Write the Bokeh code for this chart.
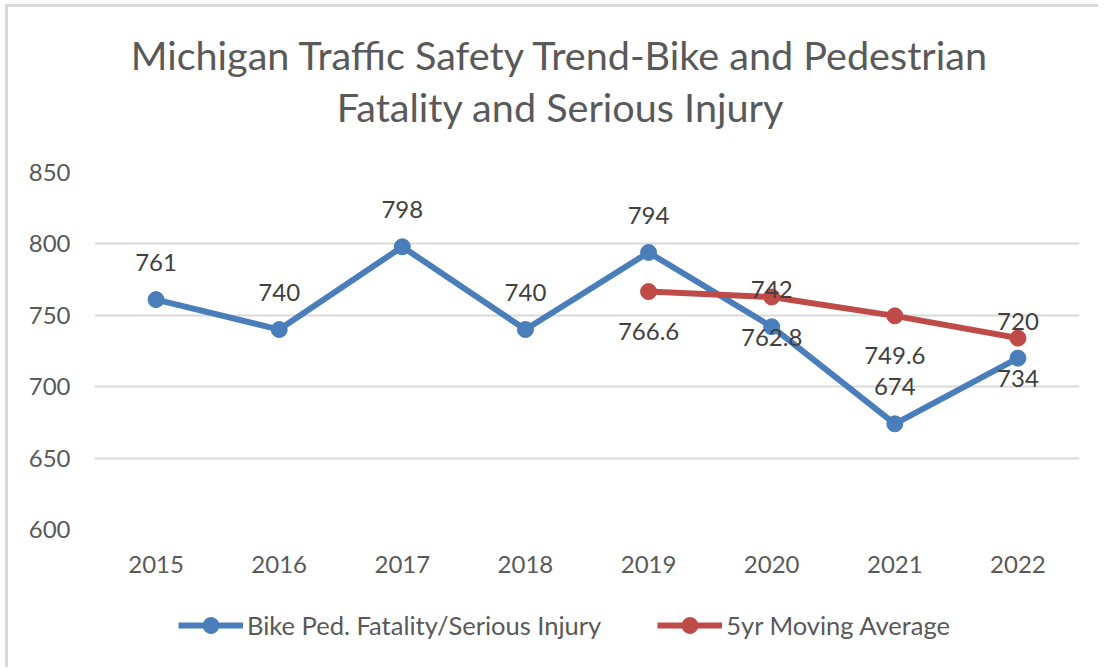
from bokeh.plotting import figure
from bokeh.models import (FactorRange, Range1d, Legend, LegendItem, ColumnDataSource,
                          SingleIntervalTicker, Label)
from bokeh.layouts import column
from bokeh.core.properties import value
from bokeh.embed import file_html
from bokeh.resources import INLINE

years = ["2015", "2016", "2017", "2018", "2019", "2020", "2021", "2022"]
bike_ped = [761, 740, 798, 740, 794, 742, 674, 720]
avg_years = ["2019", "2020", "2021", "2022"]
moving_avg = [766.6, 762.8, 749.6, 734]
bike_labels = ["761", "740", "798", "740", "794", "742", "674", "720"]
avg_labels = ["766.6", "762.8", "749.6", "734"]
title_lines = ["Michigan Traffic Safety Trend-Bike and Pedestrian", "Fatality and Serious Injury"]
series_names = ["Bike Ped. Fatality/Serious Injury", "5yr Moving Average"]

FONT = "Lato"
BLUE = "#4A7EBB"
RED = "#BE4B48"
GRAY = "#595959"
W = 1090
NAN = float("nan")


def blank(h):
    f = figure(width=W, height=h, x_range=Range1d(0, 1), y_range=Range1d(0, 1),
               x_axis_location=None, y_axis_location=None, output_backend="svg",
               toolbar_location=None, min_border=0)
    f.title.visible = False
    f.outline_line_color = None
    f.grid.visible = False
    return f


# header with the two-line title (frames are aligned with the main chart's frame)
head = blank(130)
for txt, yy in zip(title_lines, [83, 31]):
    head.add_layout(Label(x=466, y=yy, x_units="screen", y_units="screen", text=txt,
                          text_align="center", text_baseline="middle", text_font=FONT,
                          text_font_size="39.6px", text_color=GRAY))

# main chart
p = figure(width=W, height=453, x_range=FactorRange(*years, range_padding=0),
           y_range=Range1d(600, 850), output_backend="svg", toolbar_location=None,
           min_border_left=86, min_border_right=19, min_border_top=35, min_border_bottom=61)
p.title.visible = False
p.outline_line_color = None
p.xgrid.grid_line_color = None
p.ygrid.grid_line_color = "#d9d9d9"
p.ygrid.grid_line_width = 2
p.yaxis.ticker = SingleIntervalTicker(interval=50)
for ax in (p.xaxis, p.yaxis):
    ax.axis_line_color = None
    ax.major_tick_line_color = None
    ax.minor_tick_line_color = None
    ax.major_tick_out = 0
    ax.major_tick_in = 0
    ax.minor_tick_out = 0
    ax.major_label_text_font = FONT
    ax.major_label_text_font_size = "24px"
    ax.major_label_text_color = GRAY
p.yaxis.major_label_standoff = 24
p.xaxis.major_label_standoff = 26

src1 = ColumnDataSource(dict(x=years, y=bike_ped, t=bike_labels))
src2 = ColumnDataSource(dict(x=avg_years, y=moving_avg, t=avg_labels))

p.line("x", "y", source=src1, line_color=BLUE, line_width=6)
p.scatter("x", "y", source=src1, size=16, fill_color=BLUE, line_color=BLUE)
p.line("x", "y", source=src2, line_color=RED, line_width=6)
p.scatter("x", "y", source=src2, size=16, fill_color=RED, line_color=RED)

p.text("x", "y", text="t", source=src1, y_offset=-37, text_align="center", text_baseline="middle",
       text_font=value(FONT), text_font_size="24px", text_color="#404040")
p.text("x", "y", text="t", source=src2, y_offset=40, text_align="center", text_baseline="middle",
       text_font=value(FONT), text_font_size="24px", text_color="#404040")

# legend strip (placeholder renderers hold only the legend styling)
leg = blank(77)
ph = dict(x=[NAN], y=[NAN])
lr1 = leg.line("x", "y", source=ColumnDataSource(ph), line_color=BLUE, line_width=6)
ls1 = leg.scatter("x", "y", source=ColumnDataSource(ph), size=16, fill_color=BLUE, line_color=BLUE)
lr2 = leg.line("x", "y", source=ColumnDataSource(ph), line_color=RED, line_width=6)
ls2 = leg.scatter("x", "y", source=ColumnDataSource(ph), size=16, fill_color=RED, line_color=RED)
legend = Legend(items=[LegendItem(label=series_names[0], renderers=[lr1, ls1]),
                       LegendItem(label=series_names[1], renderers=[lr2, ls2])],
                location=(84, 22), orientation="horizontal", padding=0, margin=0,
                spacing=56, glyph_width=65, glyph_height=40, label_standoff=4,
                label_text_font=FONT, label_text_font_size="25.5px", label_text_color=GRAY,
                border_line_color=None, background_fill_alpha=0)
leg.add_layout(legend, "center")

layout = column(head, p, leg, spacing=0,
                styles={"margin-left": "5px", "margin-top": "4px",
                        "border-top": "3px solid #d9d9d9", "border-left": "3px solid #d9d9d9"})

open("out.html", "w").write(file_html(layout, INLINE))
